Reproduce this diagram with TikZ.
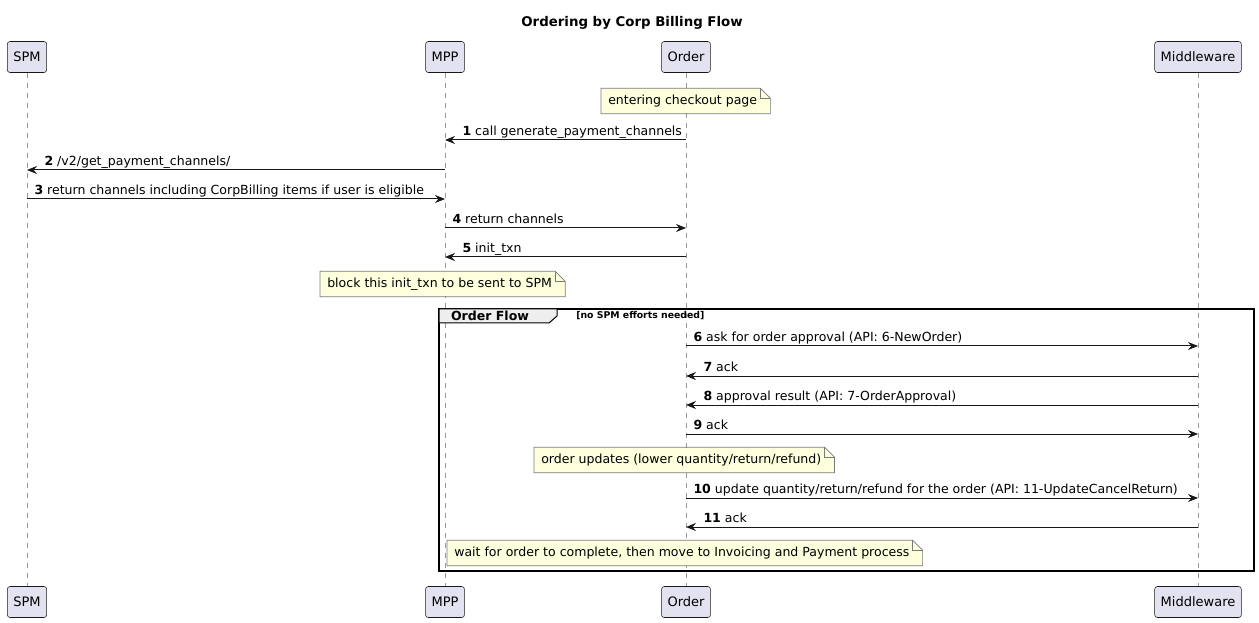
\documentclass[tikz,border=0pt]{standalone}
\usepackage{fontspec}
\setmainfont{DejaVu Sans}
\usetikzlibrary{arrows.meta,positioning}
\definecolor{partfill}{HTML}{E2E2F0}
\definecolor{partdraw}{HTML}{181818}
\definecolor{notefill}{HTML}{FEFFDD}
\definecolor{notedraw}{HTML}{7A7A7A}
\definecolor{tabfill}{HTML}{EEEEEE}

\begin{document}
\begin{tikzpicture}[x=0.75pt, y=-0.75pt,
  actor/.style={draw=partdraw, fill=partfill, rounded corners=2pt,
    font=\fontsize{9.75}{12}\selectfont, minimum height=23.25pt, inner xsep=4.5pt},
  life/.style={draw=gray!80, dash pattern=on 3.75pt off 3.75pt, line width=0.5pt},
  msg/.style={-{Stealth[length=7.5pt, width=6pt, inset=2.5pt]}, line width=0.75pt, partdraw},
  lbl/.style={anchor=base west, yshift=3.5pt, inner sep=0pt, text=black,
    font=\fontsize{9.4}{11}\selectfont},
  rlbl/.style={lbl, xshift=5.25pt},
  llbl/.style={lbl, xshift=12.75pt},
  memo/.style={fill=notefill, inner xsep=5.25pt, inner ysep=0pt, minimum height=18.75pt,
    font=\fontsize{9.4}{11}\selectfont, execute at end node={\hspace{4.5pt}}},
  memoline/.style={draw=notedraw, line width=0.5pt},
  frame/.style={draw=black, line width=1.1pt},
  tab/.style={draw=black, fill=tabfill, line width=0.75pt},
  tablbl/.style={font=\bfseries\fontsize{9.4}{11}\selectfont, inner sep=0pt},
  cond/.style={font=\bfseries\fontsize{7}{9}\selectfont, inner sep=0pt}
]
  \useasboundingbox (0,0) rectangle (1259,623);

  % Title
  \node[font=\bfseries\fontsize{10}{12}\selectfont] (title) at (632,23) {Ordering by Corp Billing Flow};

  % Participants
  \node[actor] (spm) at (27,57) {SPM};
  \node[actor] (mpp) at (445,57) {MPP};
  \node[actor] (order) at (686,57) {Order};
  \node[actor] (mw) at (1198,57) {Middleware};
  \node[actor] (spmB) at (27,602) {SPM};
  \node[actor] (mppB) at (445,602) {MPP};
  \node[actor] (orderB) at (686,602) {Order};
  \node[actor] (mwB) at (1198,602) {Middleware};

  % Lifelines
  \foreach \p in {spm,mpp,order,mw}
    \draw[life] (\p) -- (\p B);

  % Group frame
  \coordinate (frNW) at (439,309);
  \coordinate (frSE) at (1254,571);
  \draw[frame] (frNW) rectangle (frSE);
  \draw[tab] (frNW) -- ++(118,0) -- ++(0,7) -- ++(-8,7) -- ++(-110,0) -- cycle;
  \node[tablbl] (tabtxt) at (490,316) {Order Flow};
  \node[cond, anchor=west] (cond) at (576,316) {[no SPM efforts needed]};

  % Notes
  \node[memo, anchor=west] (nCheckout) at (601,101) {entering checkout page};
  \node[memo, anchor=west] (nBlock) at (320,284) {block this init\_txn to be sent to SPM};
  \node[memo, anchor=west] (nUpdates) at (534,460) {order updates (lower quantity/return/refund)};
  \node[memo, anchor=west] (nWait) at (447,553) {wait for order to complete, then move to Invoicing and Payment process};
  \foreach \n in {nCheckout,nBlock,nUpdates,nWait} {
    \fill[white] ([xshift=-7.5pt]\n.north east) -- (\n.north east) -- ([yshift=-7.5pt]\n.north east) -- cycle;
    \draw[memoline] (\n.south west) -- (\n.north west) -- ([xshift=-7.5pt]\n.north east)
      -- ([yshift=-7.5pt]\n.north east) -- (\n.south east) -- cycle;
    \draw[memoline] ([xshift=-7.5pt]\n.north east) -- ([xshift=-7.5pt,yshift=-7.5pt]\n.north east)
      -- ([yshift=-7.5pt]\n.north east);
  }

  % Messages
  \draw[msg] (order |- 0,140) -- (mpp |- 0,140) node[pos=1, llbl] {\textbf{1} call generate\_payment\_channels};
  \draw[msg] (mpp |- 0,170) -- (spm |- 0,170) node[pos=1, llbl] {\textbf{2} /v2/get\_payment\_channels/};
  \draw[msg] (spm |- 0,199) -- (mpp |- 0,199) node[pos=0, rlbl] {\textbf{3} return channels including CorpBilling items if user is eligible};
  \draw[msg] (mpp |- 0,228) -- (order |- 0,228) node[pos=0, rlbl] {\textbf{4} return channels};
  \draw[msg] (order |- 0,257) -- (mpp |- 0,257) node[pos=1, llbl] {\textbf{5} init\_txn};
  \draw[msg] (order |- 0,346) -- (mw |- 0,346) node[pos=0, rlbl] {\textbf{6} ask for order approval (API: 6-NewOrder)};
  \draw[msg] (mw |- 0,376) -- (order |- 0,376) node[pos=1, llbl] {\textbf{7} ack};
  \draw[msg] (mw |- 0,405) -- (order |- 0,405) node[pos=1, llbl] {\textbf{8} approval result (API: 7-OrderApproval)};
  \draw[msg] (order |- 0,434) -- (mw |- 0,434) node[pos=0, rlbl] {\textbf{9} ack};
  \draw[msg] (order |- 0,498) -- (mw |- 0,498) node[pos=0, rlbl] {\textbf{10} update quantity/return/refund for the order (API: 11-UpdateCancelReturn)};
  \draw[msg] (mw |- 0,527) -- (order |- 0,527) node[pos=1, llbl] {\textbf{11} ack};
\end{tikzpicture}
\end{document}
